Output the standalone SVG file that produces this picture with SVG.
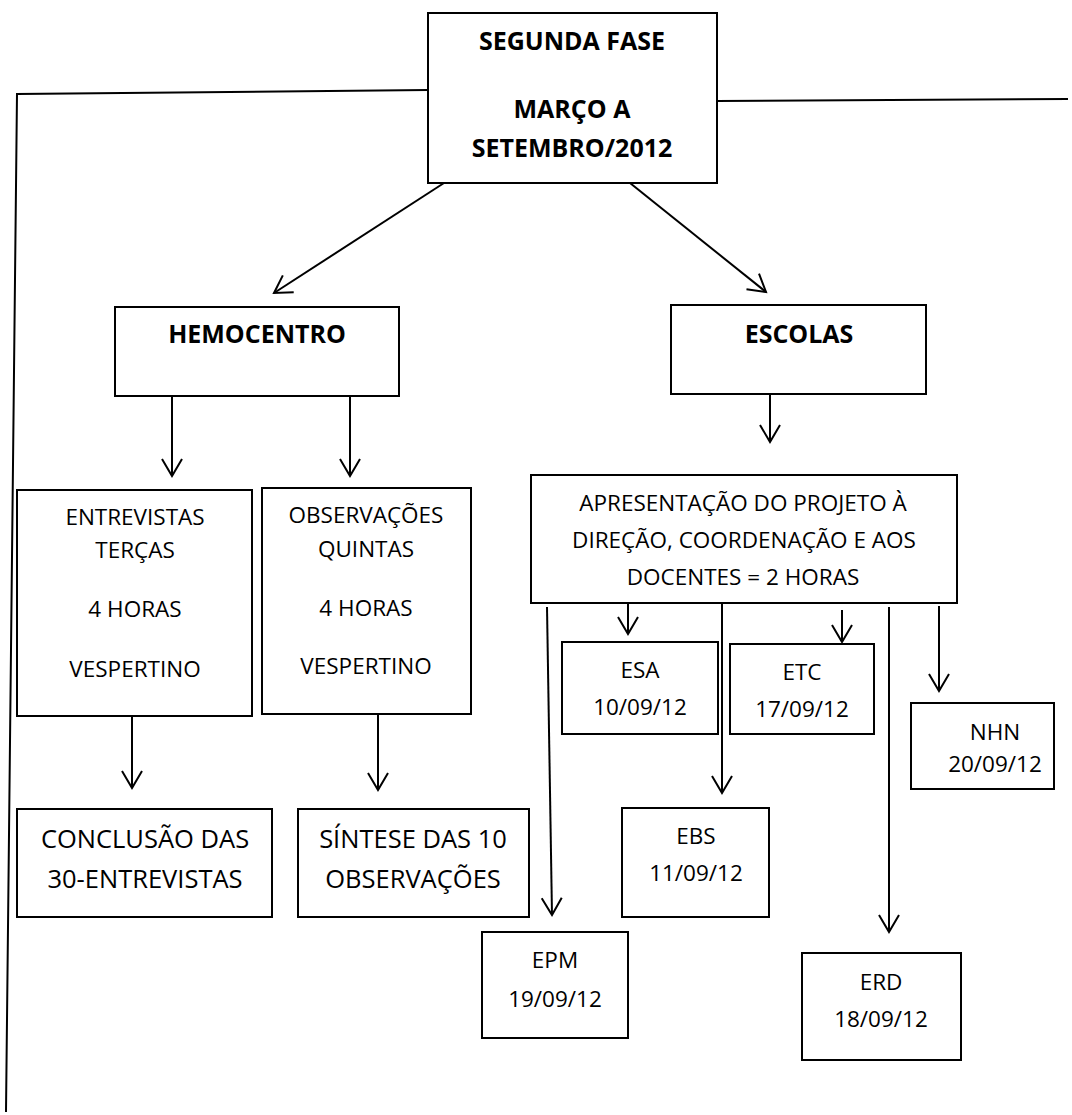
<svg xmlns="http://www.w3.org/2000/svg" width="1072" height="1115" viewBox="0 0 1072 1115">
<style>
.box{fill:#fff;stroke:#000;stroke-width:2}
.t{font-family:"Open Sans","Liberation Sans",sans-serif;font-size:22.5px;fill:#000;text-anchor:middle}
.b{font-weight:bold;font-size:25px}
.l{font-size:25.5px}
.c{fill:none;stroke:#000;stroke-width:2}
.a{marker-end:url(#arr)}
</style>
<defs>
<marker id="arr" markerUnits="userSpaceOnUse" markerWidth="40" markerHeight="40" viewBox="-20 -20 40 40" refX="0" refY="0" orient="auto" overflow="visible">
<path d="M-17,-10 L0,0 L-17,10" fill="none" stroke="#000" stroke-width="2"/>
</marker>
</defs>
<rect width="1072" height="1115" fill="#fff"/>
<g id="connectors">
<polyline class="c" points="428,90 17,94 6,1112"/>
<line class="c" x1="717" y1="101" x2="1068" y2="99"/>
<line class="c a" x1="444" y1="183" x2="274" y2="293"/>
<line class="c a" x1="630" y1="183" x2="766" y2="292"/>
<line class="c a" x1="172" y1="396" x2="172" y2="476"/>
<line class="c a" x1="350" y1="396" x2="350" y2="476"/>
<line class="c a" x1="132" y1="716" x2="132" y2="788"/>
<line class="c a" x1="378" y1="714" x2="378" y2="790"/>
<line class="c a" x1="770" y1="394" x2="770" y2="442"/>
<line class="c a" x1="547" y1="607" x2="552" y2="915"/>
<line class="c a" x1="628" y1="603" x2="628" y2="634"/>
<line class="c a" x1="722" y1="597" x2="722" y2="793"/>
<line class="c a" x1="842" y1="610" x2="842" y2="642"/>
<line class="c a" x1="889" y1="607" x2="889" y2="932"/>
<line class="c a" x1="939" y1="606" x2="939" y2="691"/>
</g>
<g id="fase">
<rect class="box" x="428" y="13" width="289" height="170"/>
<text class="t b" x="572" y="50">SEGUNDA FASE</text>
<text class="t b" x="572" y="118">MARÇO A</text>
<text class="t b" x="572" y="157">SETEMBRO/2012</text>
</g>
<g id="hemocentro">
<rect class="box" x="115" y="307" width="284" height="89"/>
<text class="t b" x="257" y="343">HEMOCENTRO</text>
</g>
<g id="escolas">
<rect class="box" x="671" y="305" width="255" height="89"/>
<text class="t b" x="799" y="343">ESCOLAS</text>
</g>
<g id="entrevistas">
<rect class="box" x="17" y="490" width="235" height="226"/>
<text class="t" x="135" y="525">ENTREVISTAS</text>
<text class="t" x="135" y="558">TERÇAS</text>
<text class="t" x="135" y="617">4 HORAS</text>
<text class="t" x="135" y="677">VESPERTINO</text>
</g>
<g id="observacoes">
<rect class="box" x="262" y="488" width="209" height="226"/>
<text class="t" x="366" y="523">OBSERVAÇÕES</text>
<text class="t" x="366" y="557">QUINTAS</text>
<text class="t" x="366" y="616">4 HORAS</text>
<text class="t" x="366" y="674">VESPERTINO</text>
</g>
<g id="conclusao">
<rect class="box" x="17" y="809" width="255" height="108"/>
<text class="t l" x="145" y="848">CONCLUSÃO DAS</text>
<text class="t l" x="145" y="888">30-ENTREVISTAS</text>
</g>
<g id="sintese">
<rect class="box" x="298" y="809" width="231" height="108"/>
<text class="t l" x="413" y="848">SÍNTESE DAS 10</text>
<text class="t l" x="413" y="888">OBSERVAÇÕES</text>
</g>
<g id="apresentacao">
<rect class="box" x="531" y="475" width="426" height="128"/>
<text class="t" x="743" y="511">APRESENTAÇÃO DO PROJETO À</text>
<text class="t" x="744" y="548">DIREÇÃO, COORDENAÇÃO E AOS</text>
<text class="t" x="743" y="585">DOCENTES = 2 HORAS</text>
</g>
<g id="esa">
<rect class="box" x="562" y="642" width="156" height="92"/>
<text class="t" x="640" y="678">ESA</text>
<text class="t" x="640" y="715">10/09/12</text>
</g>
<g id="etc">
<rect class="box" x="730" y="644" width="144" height="90"/>
<text class="t" x="802" y="680">ETC</text>
<text class="t" x="802" y="717">17/09/12</text>
</g>
<g id="ebs">
<rect class="box" x="622" y="808" width="147" height="109"/>
<text class="t" x="696" y="844">EBS</text>
<text class="t" x="696" y="881">11/09/12</text>
</g>
<g id="nhn">
<rect class="box" x="911" y="703" width="143" height="86"/>
<text class="t" x="995" y="740">NHN</text>
<text class="t" x="995" y="772">20/09/12</text>
</g>
<g id="epm">
<rect class="box" x="482" y="932" width="146" height="106"/>
<text class="t" x="555" y="968">EPM</text>
<text class="t" x="555" y="1007">19/09/12</text>
</g>
<g id="erd">
<rect class="box" x="802" y="953" width="159" height="107"/>
<text class="t" x="881" y="990">ERD</text>
<text class="t" x="881" y="1027">18/09/12</text>
</g>
</svg>
